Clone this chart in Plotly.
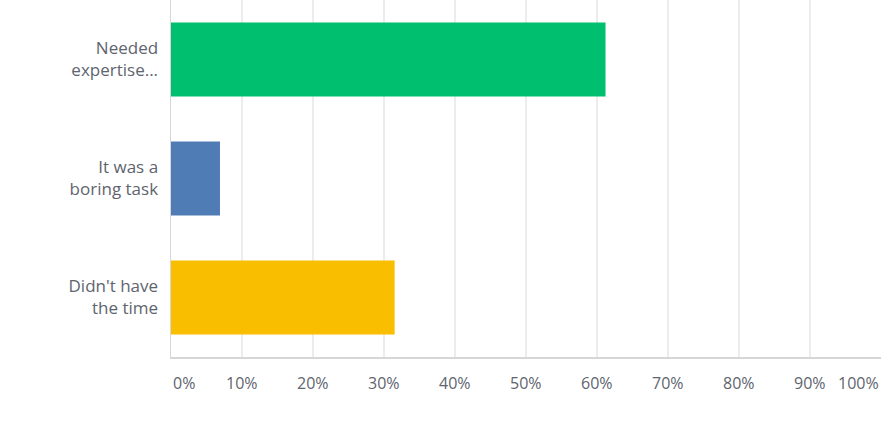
import plotly.graph_objects as go

categories = ["Needed<br>expertise...", "It was a<br>boring task", "Didn't have<br>the time"]
values = [61.2, 6.9, 31.5]
colors = ["#00bf6f", "#507cb6", "#f9be00"]
tick_vals = [0, 10, 20, 30, 40, 50, 60, 70, 80, 90, 100]
tick_text = ["0%", "10%", "20%", "30%", "40%", "50%", "60%", "70%", "80%", "90%", "100%"]

FONT = "Open Sans, Noto Sans, sans-serif"
TXT = "#60646e"

fig = go.Figure(go.Bar(
    x=values, y=categories, orientation="h",
    marker=dict(color=colors, line=dict(width=0)),
    hoverinfo="skip",
))

annotations = []
for v, t in zip(tick_vals, tick_text):
    anchor = "left" if v == tick_vals[0] else ("right" if v == tick_vals[-1] else "center")
    annotations.append(dict(
        x=v, y=0, xref="x", yref="paper", text=t, showarrow=False,
        xanchor=anchor, yanchor="middle", yshift=-26,
        font=dict(family=FONT, size=16, color=TXT),
    ))

fig.update_layout(
    width=884, height=431,
    margin=dict(l=171, r=3, t=0, b=74),
    paper_bgcolor="white", plot_bgcolor="white",
    bargap=0.38,
    showlegend=False,
    annotations=annotations,
    font=dict(family=FONT, size=16, color=TXT),
)
fig.update_xaxes(
    range=[0, 100], tickvals=tick_vals, showticklabels=False,
    showgrid=True, gridcolor="#ececec", gridwidth=1.5,
    showline=True, linecolor="#d6d6d6", linewidth=1.5,
    zeroline=False, fixedrange=True,
)
fig.update_yaxes(
    categoryorder="array", categoryarray=categories, autorange="reversed",
    showline=True, linecolor="#d6d6d6", linewidth=1.5,
    ticks="outside", ticklen=8, tickcolor="rgba(0,0,0,0)",
    tickfont=dict(family=FONT, size=17, color=TXT),
    showgrid=False, zeroline=False, fixedrange=True,
)

fig.write_html(
    "out.html",
    config={"displayModeBar": False, "staticPlot": True},
    post_script="document.body.style.margin='0';document.body.style.padding='0';",
)
